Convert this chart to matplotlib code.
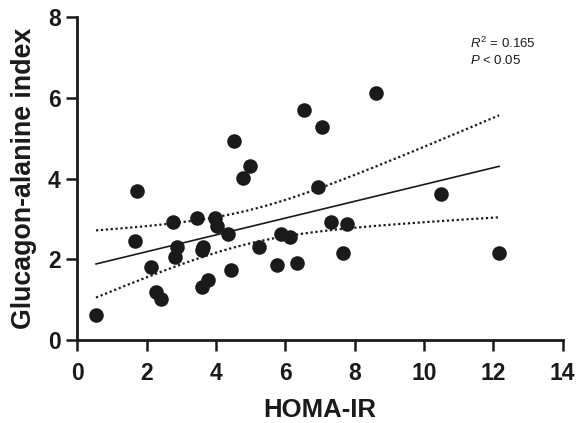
import numpy as np
import matplotlib
matplotlib.use("Agg")
import matplotlib.pyplot as plt

plt.rcParams['font.family'] = ['Liberation Sans', 'DejaVu Sans']
plt.rcParams['mathtext.fontset'] = 'custom'
plt.rcParams['mathtext.rm'] = 'Liberation Sans'
plt.rcParams['mathtext.it'] = 'Liberation Sans:italic'

homa_ir = [0.54, 1.71, 1.67, 2.14, 2.26, 2.40, 2.77, 2.87, 2.82, 3.44,
           3.59, 3.63, 3.61, 3.78, 3.97, 4.02, 4.36, 4.43, 4.52, 4.79,
           4.98, 5.25, 5.75, 5.87, 6.15, 6.33, 6.53, 6.95, 7.06, 7.31,
           7.67, 7.79, 8.63, 10.48, 12.17]
gai = [0.62, 3.70, 2.45, 1.82, 1.20, 1.03, 2.93, 2.31, 2.07, 3.02,
       2.23, 2.31, 1.31, 1.49, 3.02, 2.84, 2.62, 1.74, 4.94, 4.03,
       4.32, 2.31, 1.86, 2.64, 2.56, 1.92, 5.70, 3.79, 5.29, 2.93,
       2.17, 2.88, 6.12, 3.62, 2.17]
x_ticks = [0, 2, 4, 6, 8, 10, 12, 14]
y_ticks = [0, 2, 4, 6, 8]
x_label = "HOMA-IR"
y_label = "Glucagon-alanine index"
annot = ["$R^2$ = 0.165", "$P$ < 0.05"]

x = np.array(homa_ir)
y = np.array(gai)
n = len(x)
b, a = np.polyfit(x, y, 1)
resid = y - (a + b * x)
s = np.sqrt(np.sum(resid ** 2) / (n - 2))
t = 2.0345  # t(0.975, df=33)
xs = np.linspace(x.min(), x.max(), 200)
yhat = a + b * xs
se = s * np.sqrt(1 / n + (xs - x.mean()) ** 2 / np.sum((x - x.mean()) ** 2))

ink = '#1a1a1a'
fig = plt.figure(figsize=(5.77, 4.23), dpi=100)
ax = fig.add_axes([0.134, 0.196, 0.841, 0.763])

ax.scatter(x, y, s=110, color=ink, zorder=3, linewidths=0)
ax.plot(xs, yhat, color=ink, lw=1.2)
ax.plot(xs, yhat + t * se, color=ink, lw=1.6, dashes=(1, 1.2))
ax.plot(xs, yhat - t * se, color=ink, lw=1.6, dashes=(1, 1.2))

ax.set_xlim(0, 14)
ax.set_ylim(0, 8)
ax.set_xticks(x_ticks)
ax.set_yticks(y_ticks)
for sp in ['top', 'right']:
    ax.spines[sp].set_visible(False)
for sp in ['left', 'bottom']:
    ax.spines[sp].set_linewidth(2.0)
    ax.spines[sp].set_color(ink)
ax.tick_params(axis='both', direction='out', length=8, width=1.8, colors=ink,
               labelsize=16.5)
ax.tick_params(axis='x', pad=8)
ax.tick_params(axis='y', pad=4)
for lab in ax.get_xticklabels() + ax.get_yticklabels():
    lab.set_fontweight('bold')
    lab.set_color(ink)

ax.set_xlabel(x_label, fontsize=18.5, fontweight='bold', color=ink, labelpad=9)
ax.set_ylabel(y_label, fontsize=19.3, fontweight='bold', color=ink, labelpad=8)

ax.text(470, 375, annot[0], transform=None, fontsize=9.5, color=ink, va='baseline')
ax.text(470, 359, annot[1], transform=None, fontsize=9.5, color=ink, va='baseline')

fig.savefig("out.png", dpi=100)
